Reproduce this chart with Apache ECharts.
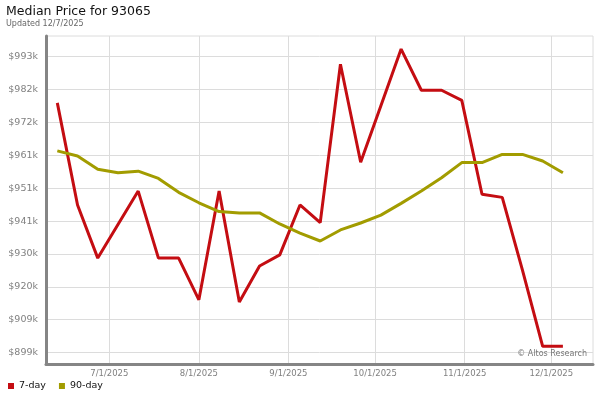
<!DOCTYPE html>
<html>
<head>
<meta charset="utf-8">
<script src="https://cdn.jsdelivr.net/npm/echarts@6/dist/echarts.min.js"></script>
<style>
html,body{margin:0;padding:0;background:#fff;}
#chart{width:600px;height:400px;}
</style>
</head>
<body>
<div id="chart"></div>
<script>
// Weekly dates (M/D/YYYY)
const dates = ['6/13/2025','6/20/2025','6/27/2025','7/4/2025','7/11/2025','7/18/2025','7/25/2025',
  '8/1/2025','8/8/2025','8/15/2025','8/22/2025','8/29/2025','9/5/2025','9/12/2025','9/19/2025',
  '9/26/2025','10/3/2025','10/10/2025','10/17/2025','10/24/2025','10/31/2025','11/7/2025',
  '11/14/2025','11/21/2025','11/28/2025','12/5/2025'];
const sevenDay = [978000,945700,928900,939500,950100,928900,928900,915700,950100,915000,926400,929900,945700,
  940100,990200,959200,977100,995000,982000,982000,978800,949100,948100,925100,901000,901000];
const ninetyDay = [962800,961200,957000,955900,956400,954100,949700,946400,943600,943200,943200,939700,936800,
  934300,937800,940000,942500,946200,950100,954300,959100,959100,961700,961700,959600,955900];
// Axis tick labels
const xTickLabels = ['7/1/2025','8/1/2025','9/1/2025','10/1/2025','11/1/2025','12/1/2025'];
const yTickValues = [899000,909400,919800,930200,940600,951000,961400,971800,982200,992600];

function parseDate(s){ const p = s.split('/').map(Number); return new Date(p[2], p[0]-1, p[1]).getTime(); }
function fmtDate(v){ const d = new Date(v); return (d.getMonth()+1)+'/'+d.getDate()+'/'+d.getFullYear(); }

const xTicks = xTickLabels.map(parseDate);
const redData = dates.map((d,i)=>[parseDate(d), sevenDay[i]]);
const oliveData = dates.map((d,i)=>[parseDate(d), ninetyDay[i]]);

const RED = '#c40d12', OLIVE = '#a29c00';
const FONT = 'DejaVu Sans';

const chart = echarts.init(document.getElementById('chart'), null, {renderer:'canvas'});
chart.setOption({
  animation: false,
  backgroundColor: '#fff',
  textStyle: {fontFamily: FONT},
  title: {
    text: 'Median Price for 93065',
    subtext: 'Updated 12/7/2025',
    left: 6, top: 5, padding: 0, itemGap: 2,
    textStyle: {fontFamily: FONT, fontSize: 12.5, fontWeight: 'normal', color: '#111'},
    subtextStyle: {fontFamily: FONT, fontSize: 8, color: '#666'}
  },
  legend: {
    left: 8, bottom: 9, padding: 0,
    itemWidth: 6, itemHeight: 6, itemGap: 13, icon: 'rect',
    textStyle: {fontFamily: FONT, fontSize: 9.5, color: '#111'},
    data: ['7-day','90-day']
  },
  grid: {
    left: 46, right: 7, top: 36, bottom: 36,
    show: true, backgroundColor: '#fff', borderColor: '#dcdcdc', borderWidth: 1,
    containLabel: false
  },
  xAxis: {
    type: 'value',
    min: new Date(2025,5,9,2).getTime(),
    max: new Date(2025,11,15,10).getTime(),
    axisLine: {show: true, lineStyle: {color: '#858585', width: 3}},
    axisTick: {show: false, customValues: xTicks},
    axisLabel: {customValues: xTicks, formatter: fmtDate, color: '#808080', fontSize: 8.5, fontFamily: FONT, margin: 5, hideOverlap: false},
    splitLine: {show: true, lineStyle: {color: '#dcdcdc', width: 1}}
  },
  yAxis: {
    type: 'value',
    min: 895400, max: 999150,
    axisLine: {show: true, lineStyle: {color: '#858585', width: 3}},
    axisTick: {show: false, customValues: yTickValues},
    axisLabel: {customValues: yTickValues, formatter: v => '$' + Math.round(v/1000) + 'k', color: '#808080', fontSize: 9.5, fontFamily: FONT, margin: 8},
    splitLine: {show: true, lineStyle: {color: '#dcdcdc', width: 1}}
  },
  graphic: [{
    type: 'text', right: 13, top: 349.5, z: 1,
    style: {text: '© Altos Research', fill: '#777', font: '8px "DejaVu Sans"'}
  }],
  series: [
    {name: '7-day', type: 'line', data: redData, showSymbol: false, symbol: 'none',
     lineStyle: {color: RED, width: 3}, itemStyle: {color: RED}},
    {name: '90-day', type: 'line', data: oliveData, showSymbol: false, symbol: 'none',
     lineStyle: {color: OLIVE, width: 3}, itemStyle: {color: OLIVE}}
  ]
});
</script>
</body>
</html>
